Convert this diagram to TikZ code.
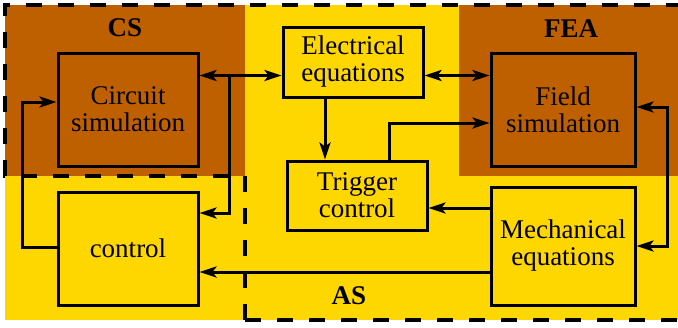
\documentclass[tikz,border=0pt]{standalone}
\usepackage{fontspec}
\setmainfont{Liberation Serif}
\newfontfamily\serf{Liberation Serif}
\usetikzlibrary{arrows.meta}
\definecolor{brn}{RGB}{191,96,0}
\definecolor{gld}{RGB}{255,215,0}
\begin{document}
\begin{tikzpicture}[x=1pt,y=-1pt,
  box/.style={draw=black,line width=3pt,align=center,inner sep=0pt,
    font={\serf\fontsize{27}{27}\selectfont}},
  tip/.tip={Stealth[length=17pt,width=11pt,inset=4pt]},
  conn/.style={line width=3pt,arrows={-tip}},
  dconn/.style={line width=3pt,arrows={tip-tip}},
  lbl/.style={font={\serf\fontsize{27}{27}\selectfont\bfseries}}]
\useasboundingbox (0,0) rectangle (678,327);
% backgrounds
\fill[gld] (5,5) rectangle (678,320);
\fill[brn] (5,5) rectangle (245,176);
\fill[brn] (459,5) rectangle (678,176);
% dashed border
\draw[line width=4.5pt,dash pattern=on 16pt off 16pt]
  (245,320) -- (245,176) -- (5,176) -- (5,5) -- (678,5);
\draw[line width=4.5pt,dash pattern=on 16pt off 16pt] (245,320) -- (678,320);
% labels
\node[lbl] (cslbl) at (125,28) {CS};
\node[lbl] (fealbl) at (571,29) {FEA};
\node[lbl] (aslbl) at (349,296) {AS};
% boxes
\node[box,fill=brn,minimum width=140pt,minimum height=113pt] (cs) at (128,109.5) {Circuit\\simulation};
\node[box,fill=gld,minimum width=140pt,minimum height=113pt] (ctl) at (128,248.5) {control};
\node[box,fill=gld,minimum width=140pt,minimum height=70pt] (ee) at (353,62) {Electrical\\equations};
\node[box,fill=gld,minimum width=140pt,minimum height=69pt] (tc) at (357,195.5) {Trigger\\control};
\node[box,fill=brn,minimum width=144pt,minimum height=113pt] (fs) at (563,109.5) {Field\\simulation};
\node[box,fill=gld,minimum width=144pt,minimum height=118pt] (me) at (563,246) {Mechanical\\equations};
% helper coordinates
\coordinate (j1) at (229,75.5);
\coordinate (j2) at (229,213);
\coordinate (l1) at (22,247);
\coordinate (l2) at (22,102);
\coordinate (e1) at (325,0);
\coordinate (t1) at (389,123);
\coordinate (r1) at (667,107);
\coordinate (r2) at (667,246);
\coordinate (m1) at (0,208);
\coordinate (m2) at (0,272);
% connectors
\draw[dconn] (cs.east |- j1) -- (ee.west |- j1);
\draw[conn] (j1) -- (j2) -- (ctl.east |- j2);
\draw[conn] (ctl.west |- l1) -- (l1) -- (l2) -- (cs.west |- l2);
\draw[conn] (ee.south -| e1) -- (tc.north -| e1);
\draw[conn] (tc.north -| t1) -- (t1) -- (fs.west |- t1);
\draw[dconn] (ee.east |- j1) -- (fs.west |- j1);
\draw[dconn] (fs.east |- r1) -- (r1) -- (r2) -- (me.east |- r2);
\draw[conn] (me.west |- m1) -- (tc.east |- m1);
\draw[conn] (me.west |- m2) -- (ctl.east |- m2);
\end{tikzpicture}
\end{document}
